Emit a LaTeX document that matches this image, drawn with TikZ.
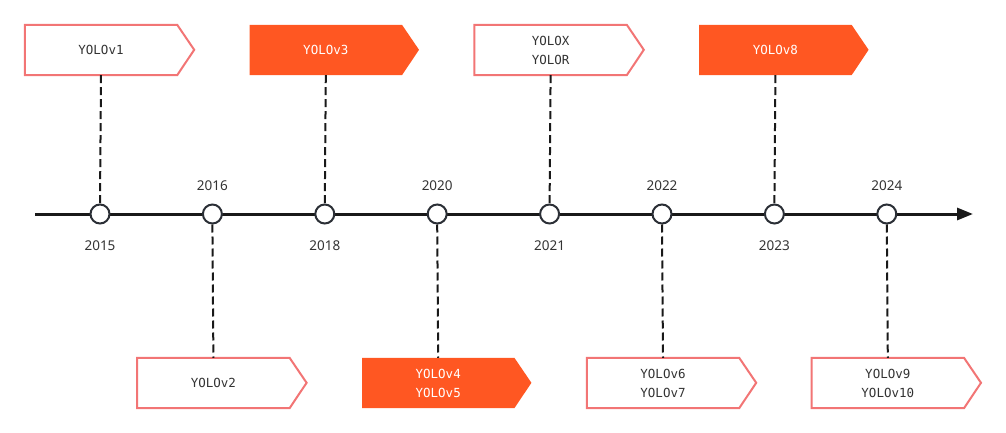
\documentclass[tikz,border=0pt]{standalone}
\usepackage{fontspec}
\setmainfont{Noto Sans}
\newfontfamily\boxfont{DejaVu Sans Mono}
\usetikzlibrary{arrows.meta,positioning,backgrounds}

\definecolor{yoloorange}{HTML}{FF5722}
\definecolor{yolopink}{HTML}{F27575}
\definecolor{inkgray}{HTML}{333333}
\definecolor{dotgray}{HTML}{2B2F36}

\tikzset{
    axis/.style={line width=3pt, draw=black!90, -{Triangle[length=16pt,width=12pt]}},
    dot/.style={circle, draw=dotgray, line width=2pt, fill=white, minimum size=19pt, inner sep=0pt},
    stem/.style={draw=black!90, line width=2pt, dash pattern=on 8pt off 4pt},
    year/.style={font=\fontsize{13.5}{16}\selectfont, text=inkgray, inner sep=0pt},
    tag/.style={minimum width=152pt, minimum height=50pt, inner sep=0pt, align=center,
        font=\boxfont\fontsize{12.5}{19}\selectfont},
    plain/.style={tag, text=inkgray},
    filled/.style={tag, text=white},
    plain shape/.style={draw=yolopink, line width=2pt, fill=white},
    filled shape/.style={fill=yoloorange},
}

\begin{document}
\begin{tikzpicture}[x=1pt,y=-1pt]
    \useasboundingbox (0,0) rectangle (1006,433);
    \coordinate (start) at (35,214);
    \coordinate (end) at (973,214);
    \draw [axis] (start) -- (end);
    % releases above the axis
    \foreach \i/\yr/\st/\txt in {0/2015/plain/{YOLOv1}, 2/2018/filled/{YOLOv3},
                                 4/2021/plain/{YOLOX\\YOLOR}, 6/2023/filled/{YOLOv8}} {
        \node [dot] (c\i) at (100+112.4*\i,214) {};
        \node [year, below=16pt of c\i] (y\i) {\yr};
        \node [\st] (b\i) at (101+112.4*\i,50) {\txt};
        \begin{pgfonlayer}{background}
            \path [\st\space shape] (b\i.north west) -- (b\i.north east) -- ++(17,25)
                -- (b\i.south east) -- (b\i.south west) -- cycle;
        \end{pgfonlayer}
        \draw [stem] (b\i.south) -- (c\i.north);
    }
    % releases below the axis
    \foreach \i/\yr/\st/\txt in {1/2016/plain/{YOLOv2}, 3/2020/filled/{YOLOv4\\YOLOv5},
                                 5/2022/plain/{YOLOv6\\YOLOv7}, 7/2024/plain/{YOLOv9\\YOLOv10}} {
        \node [dot] (c\i) at (100+112.4*\i,214) {};
        \node [year, above=13pt of c\i] (y\i) {\yr};
        \node [\st] (b\i) at (101+112.4*\i,383) {\txt};
        \begin{pgfonlayer}{background}
            \path [\st\space shape] (b\i.north west) -- (b\i.north east) -- ++(17,25)
                -- (b\i.south east) -- (b\i.south west) -- cycle;
        \end{pgfonlayer}
        \draw [stem] (c\i.south) -- (b\i.north);
    }
\end{tikzpicture}
\end{document}
